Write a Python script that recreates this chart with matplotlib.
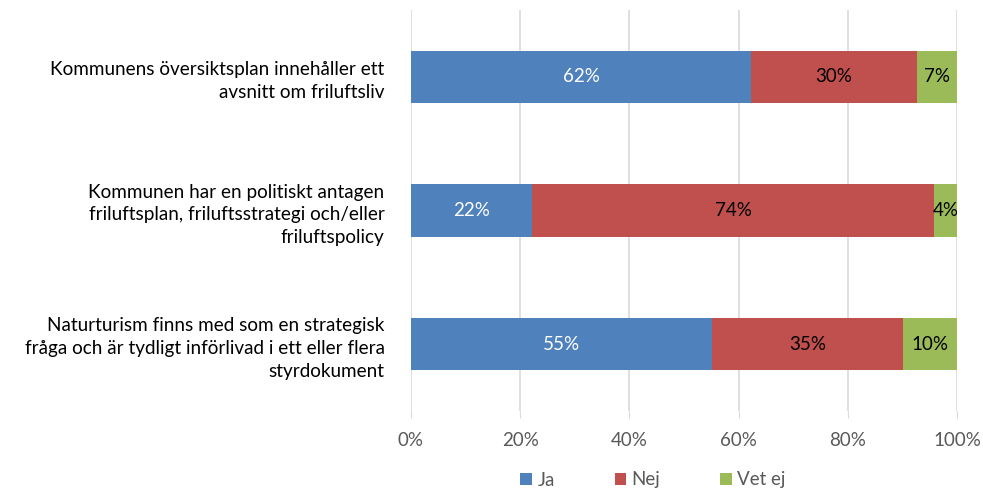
import matplotlib
matplotlib.use("Agg")
import matplotlib.pyplot as plt
import numpy as np

plt.rcParams['font.family'] = ['Lato', 'DejaVu Sans']

categories = [
    "Kommunens översiktsplan innehåller ett\navsnitt om friluftsliv",
    "Kommunen har en politiskt antagen\nfriluftsplan, friluftsstrategi och/eller\nfriluftspolicy",
    "Naturturism finns med som en strategisk\nfråga och är tydligt införlivad i ett eller flera\nstyrdokument",
]
ja = [62.3, 22.2, 55.1]
nej = [30.4, 73.6, 35.0]
vet_ej = [7.3, 4.2, 9.9]
series_names = ["Ja", "Nej", "Vet ej"]
colors = ["#4F81BD", "#C0504D", "#9BBB59"]
label_colors = ["white", "black", "black"]

fig = plt.figure(figsize=(9.83, 4.93), dpi=100)
ax = fig.add_axes([411 / 983, 1 - 411 / 493, 546 / 983, 401 / 493])

y = np.arange(len(categories))
left = np.zeros(len(categories))
for vals, name, c, lc in zip([ja, nej, vet_ej], series_names, colors, label_colors):
    bars = ax.barh(y, vals, left=left, height=0.39, color=c, label=name, zorder=3)
    for b, v in zip(bars, vals):
        ax.text(b.get_x() + b.get_width() / 2, b.get_y() + b.get_height() / 2,
                f"{round(v):.0f}%", ha="center", va="center", color=lc,
                fontsize=13.5, zorder=4)
    left += np.array(vals)

ax.set_xlim(0, 100)
ax.set_ylim(2.5, -0.5)
ax.set_xticks(np.arange(0, 101, 20))
ax.set_xticklabels([f"{t}%" for t in range(0, 101, 20)])
ax.set_yticks(y)
ax.set_yticklabels(categories, fontsize=13.6, linespacing=1.42)
ax.tick_params(axis="y", length=0, pad=19)
ax.tick_params(axis="x", length=5, color="#D9D9D9", labelcolor="#595959",
               labelsize=13.5, pad=10)
ax.grid(axis="x", color="#D9D9D9", linewidth=1.2, zorder=0)
for s in ax.spines.values():
    s.set_visible(False)

fig.legend(loc="center", bbox_to_anchor=(653 / 983, 1 - 480 / 493), ncol=3,
           frameon=False, fontsize=13.5, handlelength=0.6, handleheight=0.6,
           columnspacing=3.2, handletextpad=0.3, labelcolor="#595959")

fig.savefig("out.png", dpi=100)
